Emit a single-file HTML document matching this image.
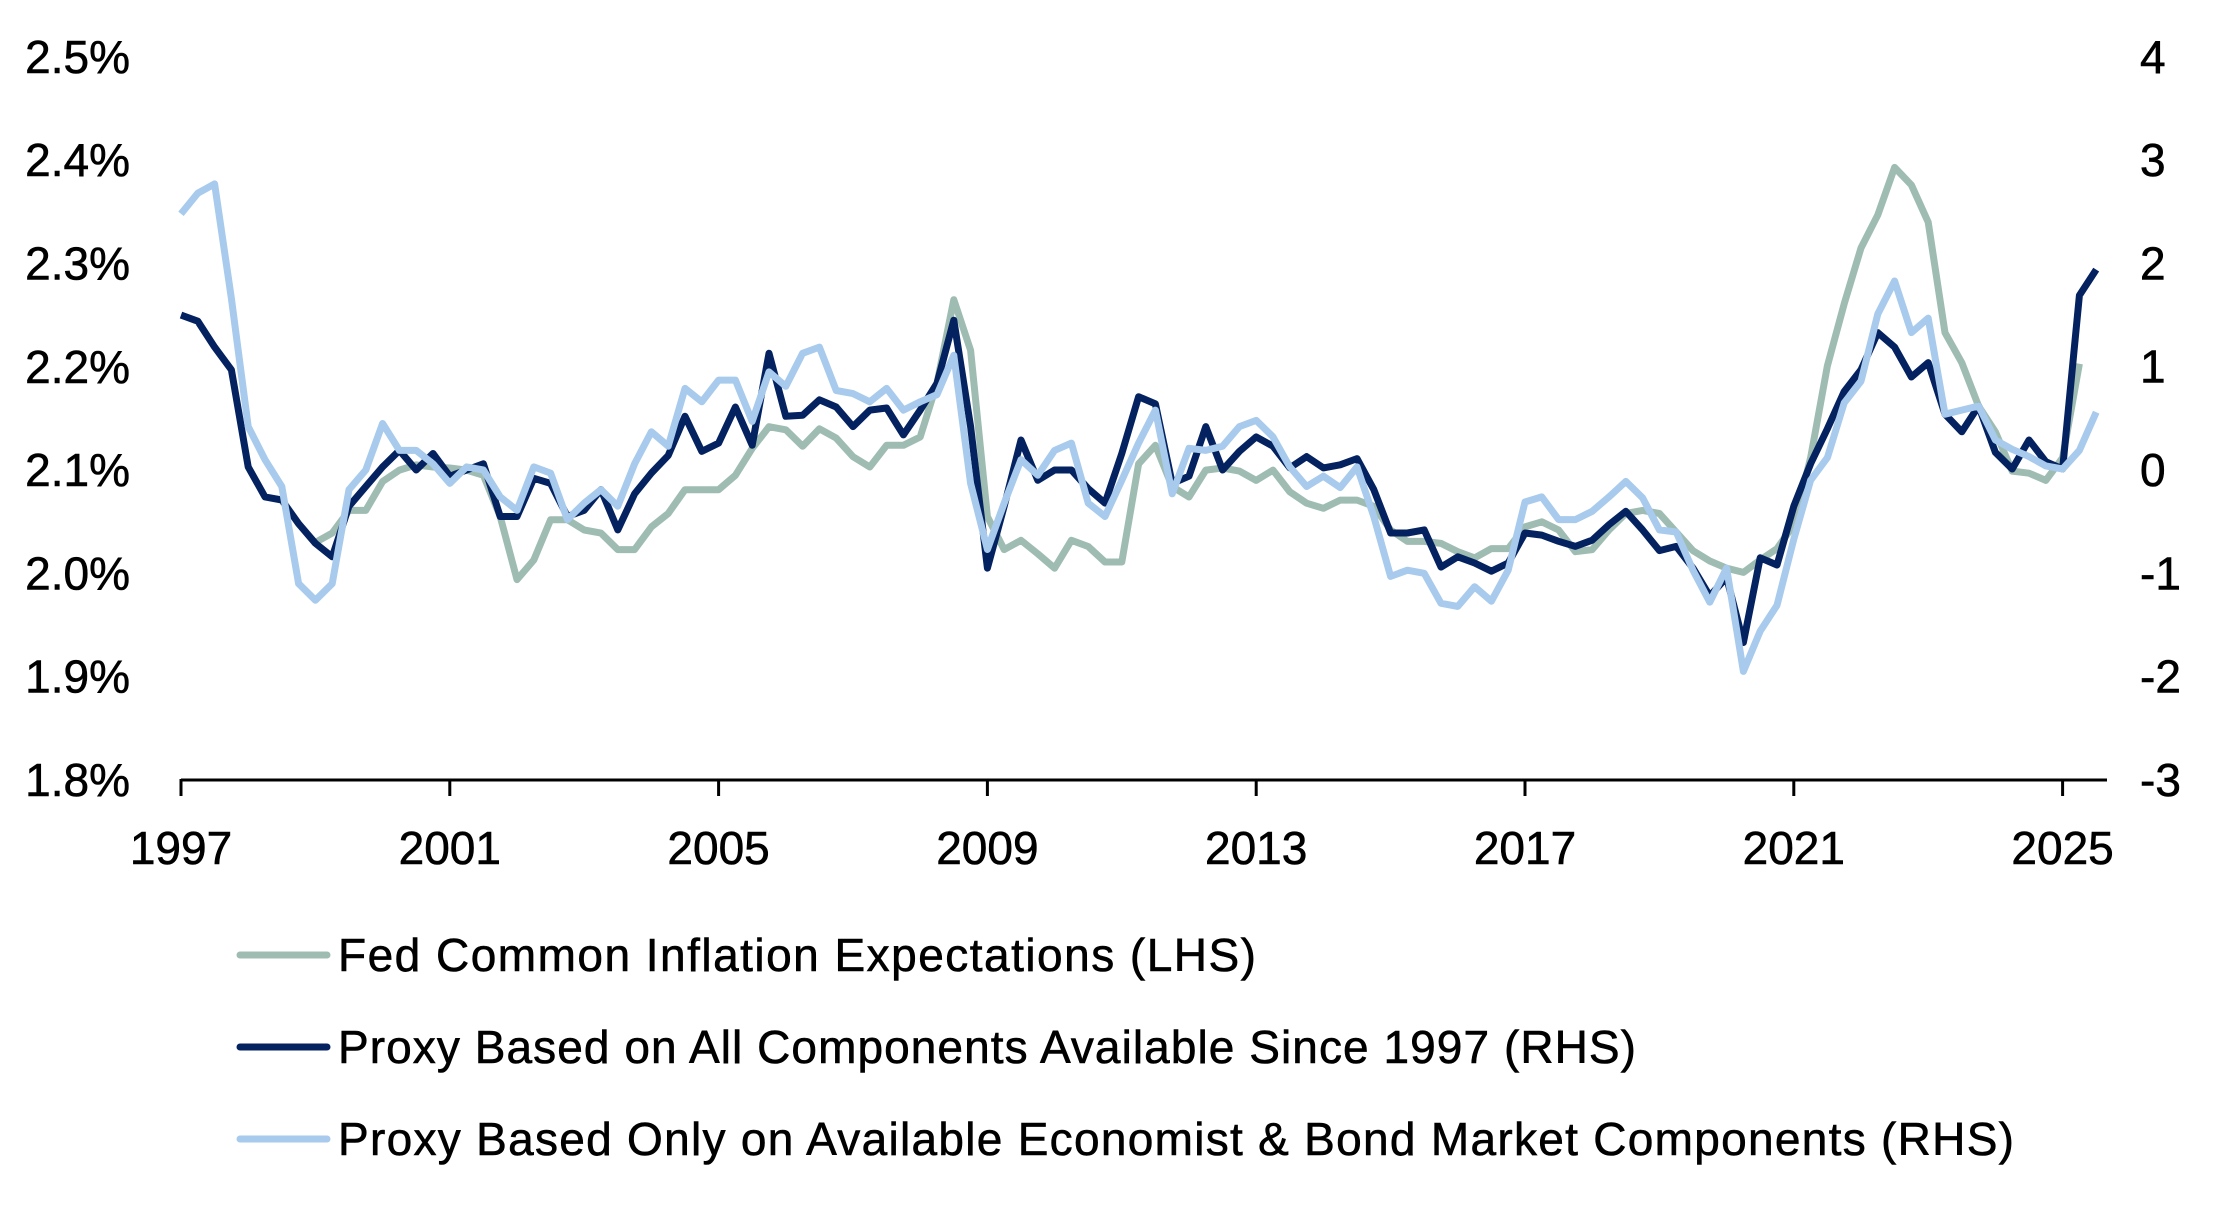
<!DOCTYPE html>
<html><head><meta charset="utf-8"><style>
html,body{margin:0;padding:0;background:#fff;}
svg{display:block;font-family:"Liberation Sans",sans-serif;}
text{stroke:#000;stroke-width:0.6px;}
</style></head><body>
<svg id="chart" width="2231" height="1207" viewBox="0 0 2231 1207" xmlns="http://www.w3.org/2000/svg"></svg>
<script>
// ---- data (quarterly, starting 1997Q1) ----
const startYear = 1997;
const stepYears = 0.25;
const fedStartIndex = 8;
const leftTicks = ["1.8%","1.9%","2.0%","2.1%","2.2%","2.3%","2.4%","2.5%"];
const leftTickValues = [1.8,1.9,2.0,2.1,2.2,2.3,2.4,2.5];
const rightTicks = ["-3","-2","-1","0","1","2","3","4"];
const rightTickValues = [-3,-2,-1,0,1,2,3,4];
const xTickYears = [1997,2001,2005,2009,2013,2017,2021,2025];
const fedCIE = [2.03,2.039,2.061,2.061,2.089,2.100,2.105,2.103,2.102,2.100,2.095,2.055,1.994,2.013,2.052,2.052,2.042,2.039,2.023,2.023,2.045,2.058,
2.081,2.081,2.081,2.095,2.121,2.142,2.139,2.123,2.140,2.131,2.113,2.103,2.124,2.124,2.132,2.184,2.265,2.216,2.055,2.023,2.032,2.019,2.005,2.032,2.026,2.011,2.011,2.106,2.124,
2.084,2.074,2.100,2.102,2.099,2.090,2.100,2.079,2.068,2.063,2.071,2.071,2.065,2.042,2.031,2.031,2.029,2.021,2.015,2.024,2.024,2.045,2.050,2.042,2.021,2.023,2.042,2.058,2.061,
2.058,2.040,2.022,2.012,2.005,2.001,2.013,2.024,2.047,2.112,2.201,2.261,2.315,2.347,2.393,2.376,2.340,2.233,2.204,2.162,2.137,2.099,2.097,2.090,2.112,2.203];
const proxyAll = [1.50,1.44,1.19,0.97,0.03,-0.26,-0.29,-0.52,-0.71,-0.84,-0.35,-0.16,0.03,0.19,0.0,0.16,-0.06,0.0,0.06,-0.45,-0.45,-0.08,-0.13,-0.45,-0.39,-0.19,-0.58,-0.23,-0.03,0.14,
0.52,0.18,0.26,0.61,0.24,1.13,0.52,0.53,0.68,0.61,0.42,0.58,0.60,0.34,0.58,0.84,1.45,0.42,-0.95,-0.35,0.29,-0.10,0.0,0.0,-0.18,-0.32,0.16,0.71,0.64,
-0.13,-0.06,0.42,0.0,0.18,0.32,0.23,0.02,0.13,0.02,0.05,0.11,-0.19,-0.61,-0.61,-0.58,-0.94,-0.84,-0.90,-0.98,-0.90,-0.61,-0.63,-0.69,-0.74,-0.68,-0.53,-0.40,-0.58,
-0.78,-0.74,-0.95,-1.22,-1.04,-1.67,-0.85,-0.92,-0.35,0.06,0.40,0.76,0.97,1.33,1.19,0.90,1.04,0.54,0.37,0.62,0.17,0.01,0.29,0.08,0.01,1.69,1.94];
const proxyEconBond = [2.48,2.68,2.77,1.66,0.42,0.10,-0.16,-1.10,-1.26,-1.10,-0.19,0,0.45,0.19,0.19,0.06,-0.13,0.03,0,-0.26,-0.39,0.03,-0.03,-0.48,-0.32,-0.19,-0.35,0.06,0.37,0.23,
0.79,0.66,0.87,0.87,0.47,0.95,0.81,1.13,1.19,0.77,0.74,0.66,0.79,0.58,0.66,0.73,1.11,-0.13,-0.77,-0.32,0.10,-0.05,0.19,0.26,-0.32,-0.45,-0.10,0.26,0.58,
-0.23,0.21,0.19,0.23,0.42,0.48,0.32,0.03,-0.16,-0.06,-0.17,0.03,-0.45,-1.03,-0.97,-1.00,-1.29,-1.32,-1.13,-1.27,-0.97,-0.31,-0.26,-0.48,-0.48,-0.40,-0.26,-0.11,-0.27,
-0.58,-0.60,-0.97,-1.28,-0.95,-1.95,-1.56,-1.31,-0.67,-0.10,0.12,0.65,0.86,1.51,1.83,1.33,1.47,0.54,0.58,0.62,0.29,0.20,0.13,0.04,0.01,0.19,0.56];
const legendLabels = ["Fed Common Inflation Expectations (LHS)","Proxy Based on All Components Available Since 1997 (RHS)","Proxy Based Only on Available Economist & Bond Market Components (RHS)"];
const legendWidths = [918,1298,1676];

// ---- axes ----
const X0 = 181, PXY = 67.2;
const xScale = y => X0 + (y - 1997) * PXY;
const yLeft = v => 780 - (v - 1.8) * 1033;
const yRight = v => 470 - v * 103.3;
const NS = "http://www.w3.org/2000/svg";
const svg = document.getElementById('chart');
function mk(tag, attrs, parent){ const e=document.createElementNS(NS,tag); for(const k in attrs) e.setAttribute(k,attrs[k]); (parent||svg).appendChild(e); return e; }

const axisG = mk('g',{});


const axisLine = mk('line',{x1:181,y1:780,x2:2107,y2:780,stroke:'#000','stroke-width':3},axisG);


xTickYears.forEach(yr=>{
  const x=xScale(yr);
  const t=mk('line',{x1:x,y1:779,x2:x,y2:796,stroke:'#000','stroke-width':3},axisG);
  
  
  const l=mk('text',{x:x,y:864,'text-anchor':'middle','font-size':46,fill:'#000'},axisG);
  l.textContent=yr;
  
  
});
leftTicks.forEach((lab,i)=>{
  const l=mk('text',{x:130,y:yLeft(leftTickValues[i])+16,'text-anchor':'end','font-size':46,fill:'#000'});
  l.textContent=lab;
  
  
});
rightTicks.forEach((lab,i)=>{
  const l=mk('text',{x:2140,y:yRight(rightTickValues[i])+16,'text-anchor':'start','font-size':46,fill:'#000'});
  l.textContent=lab;
  
  
});

// ---- series ----
function pathFor(vals, offset, scale){
  return vals.map((v,i)=>(i?'L':'M')+xScale(startYear+(i+offset)*stepYears).toFixed(1)+','+scale(v).toFixed(1)).join(' ');
}
const colors = ['#9fbcb3','#042260','#a8caec'];
const fedPath = mk('path',{d:pathFor(fedCIE,fedStartIndex,yLeft),fill:'none',stroke:colors[0],'stroke-width':7,'stroke-linejoin':'round'});


const allPath = mk('path',{d:pathFor(proxyAll,0,yRight),fill:'none',stroke:colors[1],'stroke-width':7,'stroke-linejoin':'round'});


const ebPath = mk('path',{d:pathFor(proxyEconBond,0,yRight),fill:'none',stroke:colors[2],'stroke-width':7,'stroke-linejoin':'round'});



// ---- legend ----
const legG = mk('g',{});


[955,1047,1139].forEach((y,i)=>{
  const ln=mk('line',{x1:240,y1:y,x2:327,y2:y,stroke:colors[i],'stroke-width':7,'stroke-linecap':'round'},legG);
  
  
  const t=mk('text',{x:338,y:y+16,'font-size':46,fill:'#000',textLength:legendWidths[i],lengthAdjust:'spacing'},legG);
  t.textContent=legendLabels[i];
  
  
});
</script>
</body></html>
